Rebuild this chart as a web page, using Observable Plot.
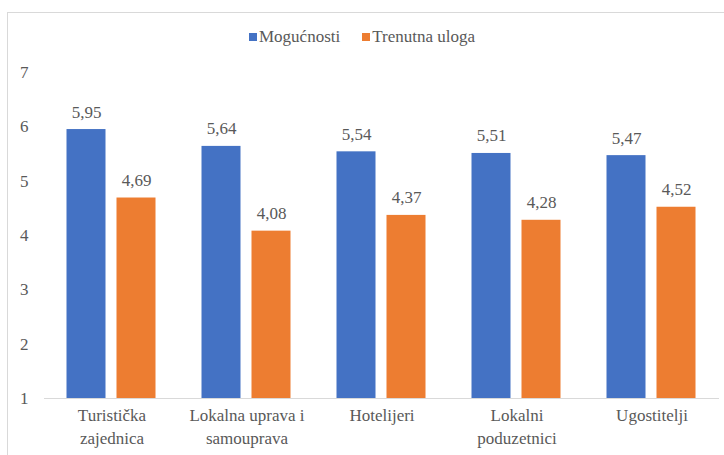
<!DOCTYPE html>
<html>
<head>
<meta charset="utf-8">
<script src="https://cdn.jsdelivr.net/npm/d3@7"></script>
<script src="https://cdn.jsdelivr.net/npm/@observablehq/plot@0.6"></script>
<style>
  html, body { margin: 0; padding: 0; background: #fff; overflow: hidden; }
  body { width: 724px; height: 455px; position: relative; }
  html body div, html body span, html body svg, html body svg text, html body svg tspan, html body svg g { font-family: "Liberation Serif", "Times New Roman", serif !important; }
  #frame { position: absolute; left: 7px; top: 12px; width: 800px; height: 600px; border: 1px solid #d9d9d9; }
  #legend { position: absolute; left: 0; top: 26px; width: 724px; text-align: center; font-size: 17px; color: #595959; }
  #legend .item { display: inline-flex; align-items: center; margin: 0 11px; }
  #legend .sw { width: 8px; height: 8px; display: inline-block; margin-right: 2px; }
  #chart { position: absolute; left: 0; top: 55px; }
</style>
</head>
<body>
<div id="frame"></div>
<div id="legend"></div>
<div id="chart"></div>
<script>
const categories = ["Turistička\nzajednica", "Lokalna uprava i\nsamouprava", "Hotelijeri", "Lokalni\npoduzetnici", "Ugostitelji"];
const seriesNames = ["Mogućnosti", "Trenutna uloga"];
const mogucnosti = [5.95, 5.64, 5.54, 5.51, 5.47];
const trenutnaUloga = [4.69, 4.08, 4.37, 4.28, 4.52];
const yTicks = [1, 2, 3, 4, 5, 6, 7];
const colors = ["#4472C4", "#ED7D31"];

const data = [];
categories.forEach((c, i) => {
  data.push({cat: c, series: seriesNames[0], value: mogucnosti[i]});
  data.push({cat: c, series: seriesNames[1], value: trenutnaUloga[i]});
});
const fmt = d => d.toFixed(2).replace(".", ",");
const FONT = "'Liberation Serif', 'Times New Roman', serif";

const legend = document.getElementById("legend");
seriesNames.forEach((s, i) => {
  const item = document.createElement("span");
  item.className = "item";
  const sw = document.createElement("span");
  sw.className = "sw";
  sw.style.background = colors[i];
  item.appendChild(sw);
  item.appendChild(document.createTextNode(s));
  legend.appendChild(item);
});

const chart = Plot.plot({
  width: 724,
  height: 400,
  marginLeft: 43.5,
  marginRight: 5.5,
  marginTop: 17,
  marginBottom: 57,
  style: {fontFamily: FONT, fontSize: "17px", color: "#595959", background: "transparent"},
  fx: {domain: categories, padding: 0},
  x: {domain: seriesNames, paddingInner: 0.218, paddingOuter: 0.446, axis: null},
  y: {domain: [1, 7], axis: null},
  color: {domain: seriesNames, range: colors},
  marks: [
    Plot.axisY({ticks: yTicks, tickSize: 0, tickPadding: 16, tickFormat: d => String(d), label: null}),
    Plot.axisFx({anchor: "bottom", tickSize: 0, tickPadding: 5, lineHeight: 1.41, label: null}),
    Plot.barY(data, {fx: "cat", x: "series", y1: 1, y2: "value", fill: "series"}),
    Plot.text(data, {fx: "cat", x: "series", y: "value", text: d => fmt(d.value), lineAnchor: "bottom", dy: -12, fill: "#595959"}),
    Plot.ruleY([1], {stroke: "#d9d9d9", strokeWidth: 1})
  ]
});
document.getElementById("chart").appendChild(chart);
document.querySelectorAll("body, div, span, svg, g, text, tspan").forEach(el => {
  el.style.setProperty("font-family", FONT, "important");
  if (el.tagName === "text" || el.tagName === "g") el.setAttribute("font-family", FONT);
});
</script>
</body>
</html>
